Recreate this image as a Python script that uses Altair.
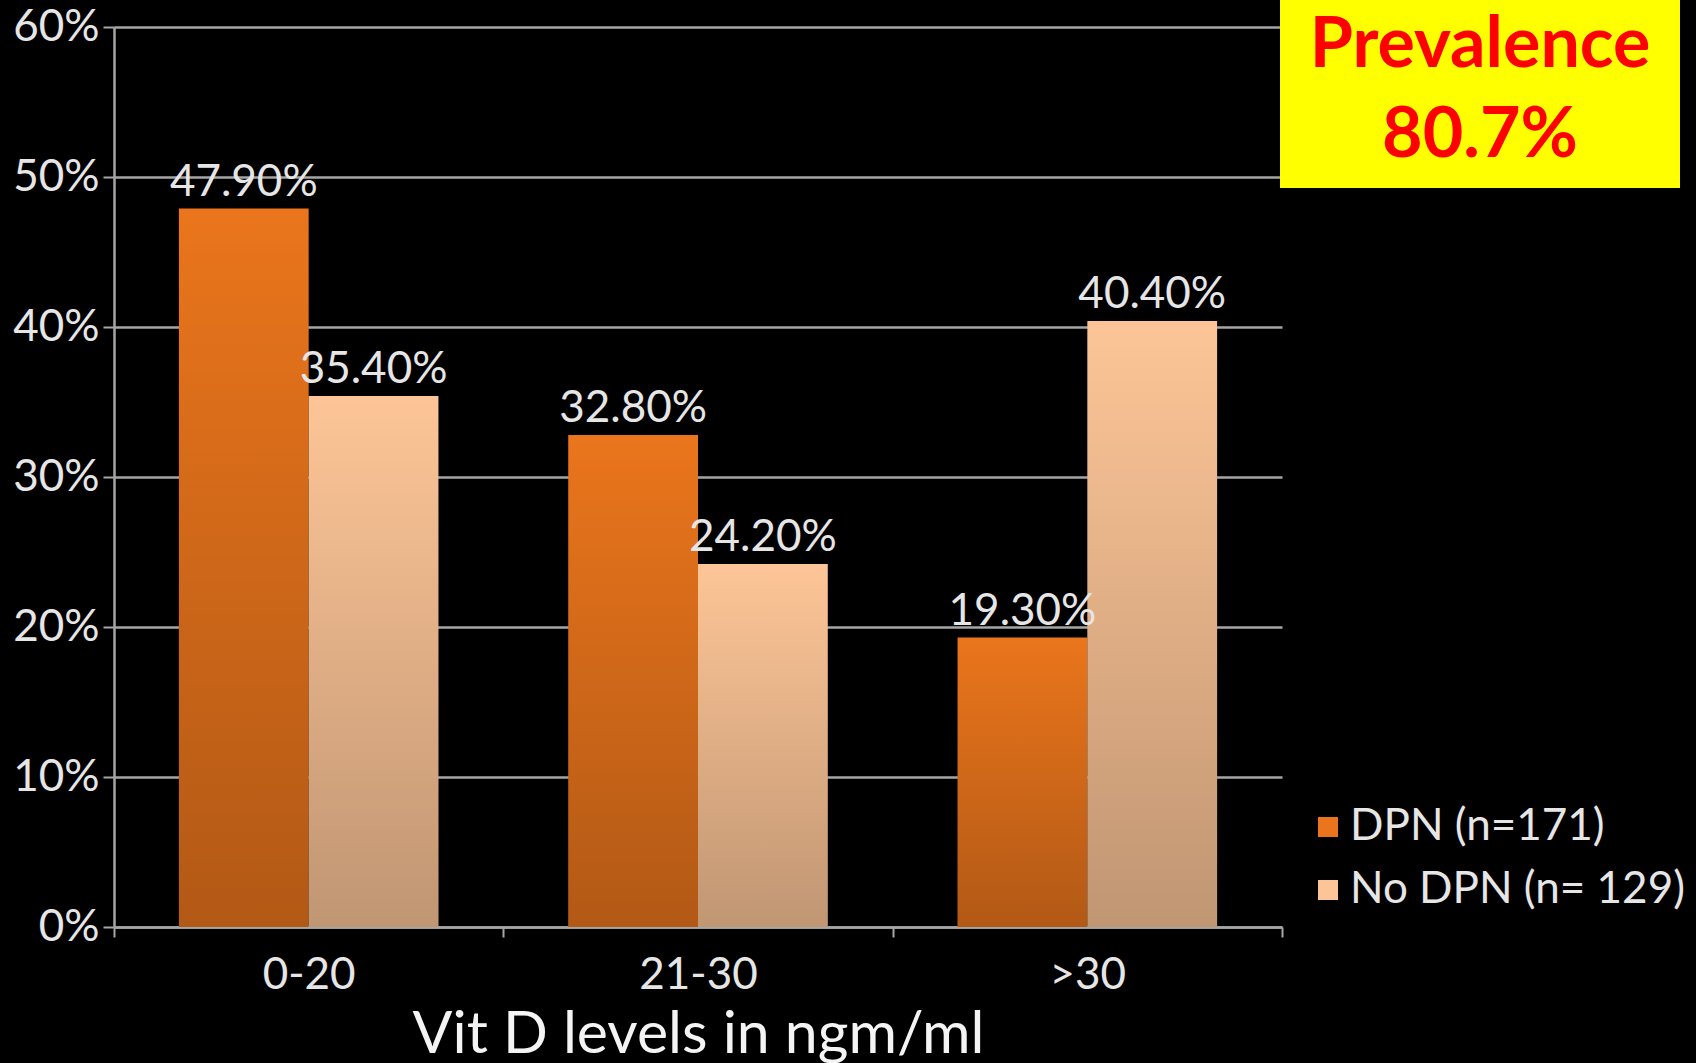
import altair as alt
import pandas as pd

# Vitamin D level groups and share of patients in each group
levels = ["0-20", "21-30", ">30"]
series = ["DPN (n=171)", "No DPN (n= 129)"]
dpn_share = [0.479, 0.328, 0.193]
no_dpn_share = [0.354, 0.242, 0.404]
series_colors = ["#EA751C", "#FDC597"]

prevalence_title = "Prevalence"
prevalence_value = "80.7%"

rows = []
for lvl, a, b in zip(levels, dpn_share, no_dpn_share):
    rows.append({"level": lvl, "group": series[0], "value": a})
    rows.append({"level": lvl, "group": series[1], "value": b})
df = pd.DataFrame(rows)

FONT = "Lato"
TXT = "#E6E6E6"
GRID = "#A6A6A6"

x_enc = alt.X(
    "level:N",
    sort=levels,
    scale=alt.Scale(paddingInner=0, paddingOuter=0),
    axis=alt.Axis(
        title="Vit D levels in ngm/ml",
        labelAngle=0,
        labelFontSize=44,
        labelPadding=16,
        tickBand="extent",
        tickSize=10,
        tickColor=GRID,
        tickWidth=2,
        domainColor=GRID,
        domainWidth=2.5,
        titleFontSize=59,
        titleFontWeight="normal",
        titleColor="#F4F4F4",
        titlePadding=8,
        grid=False,
    ),
)
xo_enc = alt.XOffset(
    "group:N", sort=series, scale=alt.Scale(paddingInner=0, paddingOuter=0.5)
)
y_enc = alt.Y(
    "value:Q",
    scale=alt.Scale(domain=[0, 0.6], nice=False),
    axis=alt.Axis(
        title=None,
        format=".0%",
        values=[0, 0.1, 0.2, 0.3, 0.4, 0.5, 0.6],
        labelFontSize=44,
        labelPadding=4,
        tickSize=11,
        tickColor=GRID,
        tickWidth=2,
        domainColor=GRID,
        domainWidth=2.5,
        grid=True,
        gridColor=GRID,
        gridWidth=2.5,
    ),
)

base = alt.Chart(df)

bars = base.mark_bar().encode(
    x=x_enc,
    xOffset=xo_enc,
    y=y_enc,
    color=alt.Color(
        "group:N",
        sort=series,
        scale=alt.Scale(domain=series, range=series_colors),
        legend=alt.Legend(
            title=None,
            orient="none",
            legendX=1174,
            legendY=778,
            padding=0,
            symbolType="square",
            symbolSize=400,
            symbolStrokeWidth=0,
            symbolOffset=18,
            labelFontSize=44,
            labelColor=TXT,
            labelFont=FONT,
            labelOffset=0,
            labelLimit=0,
            rowPadding=19,
        ),
    ),
)

# darkening gradient laid over each bar, fading toward the baseline
shade = base.mark_bar(
    color=alt.Gradient(
        gradient="linear",
        x1=0, x2=0, y1=0, y2=1,
        stops=[
            alt.GradientStop(color="rgba(0,0,0,0)", offset=0),
            alt.GradientStop(color="rgba(0,0,0,0.24)", offset=1),
        ],
    )
).encode(x=x_enc, xOffset=xo_enc, y=y_enc)

labels = base.mark_text(
    baseline="alphabetic", dy=-13, fontSize=44, font=FONT, color=TXT
).encode(
    x=x_enc,
    xOffset=xo_enc,
    y=y_enc,
    text=alt.Text("value:Q", format=".2%"),
)

note = alt.Chart(pd.DataFrame({"t": [prevalence_title], "v": [prevalence_value]}))
box = note.mark_rect(color="#FFFF00").encode(
    x=alt.value(1166), x2=alt.value(1566), y=alt.value(-27), y2=alt.value(161)
)
note_title = note.mark_text(
    fontSize=70, font=FONT, fontWeight="bold", color="#FF0000", baseline="alphabetic"
).encode(text="t:N", x=alt.value(1366), y=alt.value(40))
note_value = note.mark_text(
    fontSize=70, font=FONT, fontWeight="bold", color="#FF0000", baseline="alphabetic"
).encode(text="v:N", x=alt.value(1366), y=alt.value(130))

chart = (
    alt.layer(bars, shade, labels, box, note_title, note_value)
    .properties(
        width=1168,
        height=900,
        padding={"left": 114, "top": 27, "right": 414, "bottom": 136},
        autosize=alt.AutoSizeParams(type="none"),
        background="#000000",
    )
    .configure_view(stroke=None)
    .configure_axis(labelFont=FONT, titleFont=FONT, labelColor=TXT)
)

chart.save("out.html", embed_options={"renderer": "svg", "actions": False})
